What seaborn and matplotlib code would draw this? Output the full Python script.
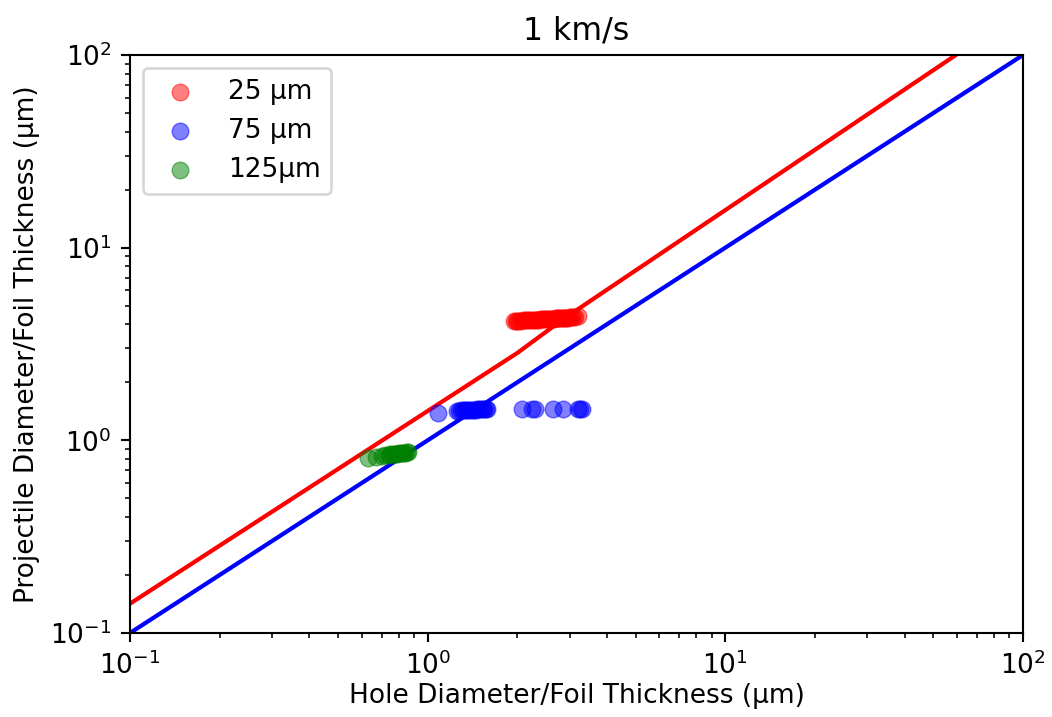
import matplotlib
matplotlib.use("Agg")
import matplotlib.pyplot as plt
import seaborn as sns
import numpy as np
import pandas as pd

# --- data ---
title = "1 km/s"
xlabel = "Hole Diameter/Foil Thickness (μm)"
ylabel = "Projectile Diameter/Foil Thickness (μm)"

labels = ["25 μm", "75 μm", "125μm"]
colors = ["red", "blue", "green"]

red_x = [1.95, 1.98, 2.0, 2.03, 2.06, 2.09, 2.12, 2.15, 2.18, 2.21, 2.24, 2.27, 2.3,
         2.33, 2.36, 2.39, 2.42, 2.45, 2.48, 2.51, 2.54, 2.57, 2.6, 2.63, 2.66, 2.69,
         2.72, 2.75, 2.78, 2.81, 2.84, 2.87, 2.9, 2.93, 2.96, 3.0, 3.04, 3.08, 3.13, 3.2]
red_y = [4.15, 4.16, 4.17, 4.17, 4.18, 4.19, 4.19, 4.2, 4.2, 4.21, 4.21, 4.22, 4.22,
         4.23, 4.23, 4.24, 4.24, 4.25, 4.25, 4.26, 4.26, 4.27, 4.27, 4.28, 4.28, 4.29,
         4.29, 4.3, 4.3, 4.31, 4.31, 4.32, 4.32, 4.33, 4.34, 4.35, 4.36, 4.37, 4.38, 4.4]

blue_x = [1.08, 1.25, 1.27, 1.29, 1.31, 1.33, 1.35, 1.37, 1.39, 1.41, 1.43, 1.45,
          1.47, 1.49, 1.51, 1.53, 1.55, 1.57, 1.58,
          2.07, 2.24, 2.29, 2.64, 2.85, 3.2, 3.25, 3.3]
blue_y = [1.39, 1.42, 1.42, 1.43, 1.43, 1.43, 1.43, 1.44, 1.44, 1.44, 1.44, 1.44,
          1.45, 1.45, 1.45, 1.45, 1.45, 1.45, 1.45,
          1.45, 1.45, 1.45, 1.45, 1.45, 1.45, 1.45, 1.45]

green_x = [0.63, 0.67, 0.70, 0.72, 0.74, 0.75, 0.76, 0.77, 0.78, 0.79, 0.80, 0.81,
           0.82, 0.83, 0.84, 0.85, 0.86]
green_y = [0.81, 0.82, 0.83, 0.835, 0.84, 0.845, 0.845, 0.85, 0.85, 0.85, 0.855, 0.855,
           0.86, 0.86, 0.86, 0.865, 0.865]

# model lines
red_line_x = [0.1, 2.0, 2.85, 59.5]
red_line_y = [0.142, 2.84, 4.25, 100.0]
blue_line_x = [0.1, 100.0]
blue_line_y = [0.1, 100.0]

# --- figure ---
DPI = 190
fig = plt.figure(figsize=(1052 / DPI, 717 / DPI), dpi=DPI)
ax = fig.add_axes([130 / 1052, 1 - 633 / 717, (1023 - 130) / 1052, (633 - 55) / 717])

series = [(red_x, red_y), (blue_x, blue_y), (green_x, green_y)]
for (xs, ys), lab, col in zip(series, labels, colors):
    sns.scatterplot(x=xs, y=ys, ax=ax, color=col, alpha=0.5, s=40,
                    edgecolor="face", label=lab, zorder=3)

sns.lineplot(x=red_line_x, y=red_line_y, ax=ax, color="red", lw=1.6,
             estimator=None, sort=False, zorder=2)
sns.lineplot(x=blue_line_x, y=blue_line_y, ax=ax, color="blue", lw=1.6,
             estimator=None, sort=False, zorder=2)

ax.set_xscale("log")
ax.set_yscale("log")
ax.set_xlim(0.1, 100)
ax.set_ylim(0.1, 100)
ax.set_title(title, fontsize=12)
ax.set_xlabel(xlabel, fontsize=10, labelpad=1)
ax.set_ylabel(ylabel, fontsize=10)
ax.tick_params(labelsize=10)

ax.legend(loc="upper left", fontsize=10)

fig.savefig("out.png", dpi=DPI)
